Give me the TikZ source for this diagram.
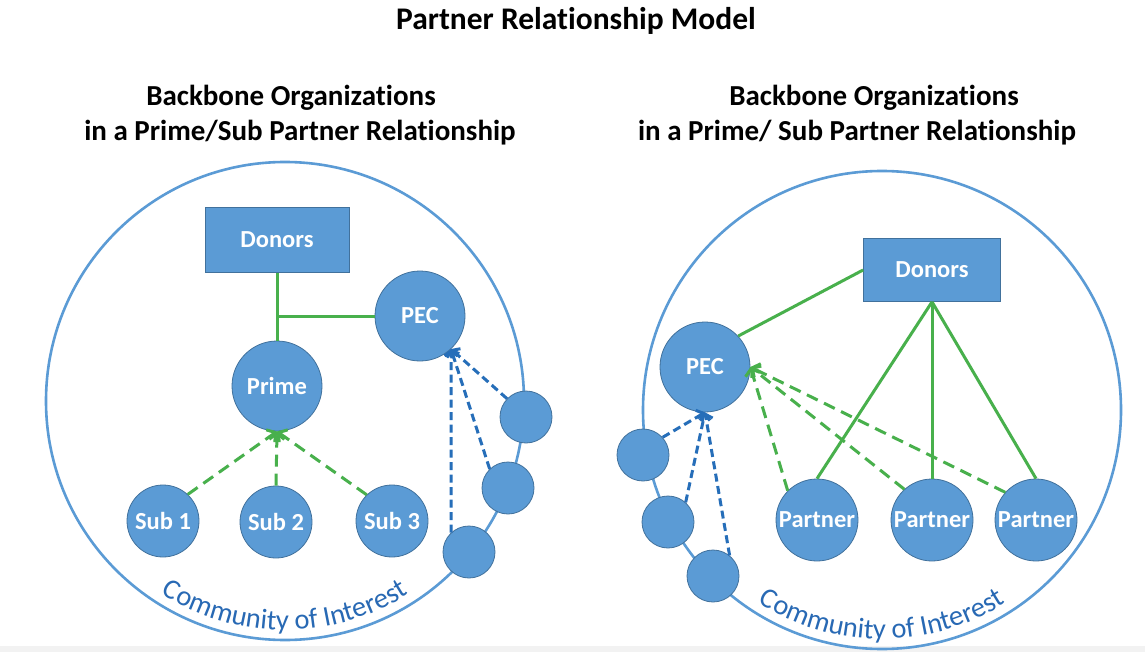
\documentclass[tikz,border=0pt]{standalone}
\usepackage{fontspec}
\setmainfont{Carlito}[Ligatures=NoCommon]
\usetikzlibrary{arrows.meta,decorations.text,calc}

\definecolor{nodeblue}{RGB}{91,155,213}
\definecolor{edgeblue}{RGB}{65,113,156}
\definecolor{linkgreen}{RGB}{72,176,76}
\definecolor{dashblue}{RGB}{38,110,185}
\definecolor{labelblue}{RGB}{40,105,180}
\newcommand{\ringlabelfont}{\fontsize{28.5}{30}\selectfont\color{labelblue}}

\begin{document}
\begin{tikzpicture}[x=1pt,y=-1pt,
  ring/.style={draw=nodeblue, line width=2.6pt},
  heading/.style={font=\bfseries\fontsize{29}{34}\selectfont, inner sep=0pt},
  orgbox/.style={rectangle, draw=edgeblue, line width=0.8pt, fill=nodeblue,
    text=white, font=\bfseries\fontsize{24.5}{27}\selectfont, inner sep=0pt},
  org/.style={circle, draw=edgeblue, line width=0.8pt, fill=nodeblue,
    text=white, font=\bfseries\fontsize{24.5}{27}\selectfont, inner sep=0pt,
    minimum size=#1},
  member/.style={circle, draw=edgeblue, line width=0.8pt, fill=nodeblue,
    inner sep=0pt, minimum size=52pt},
  tie/.style={draw=linkgreen, line width=3pt},
  greenflow/.style={draw=linkgreen, line width=3pt, dash pattern=on 12pt off 7pt,
    -{Straight Barb[length=6pt,width=15pt,line width=3pt]}},
  blueflow/.style={draw=dashblue, line width=3pt, dash pattern=on 8pt off 4.5pt,
    -{Straight Barb[length=5pt,width=13pt,line width=3pt]}},
]
\useasboundingbox (0,0) rectangle (1145,652);
\fill[white] (0,0) rectangle (1145,652);
\fill[black!5] (0,646) rectangle (1145,652);

% headings
\node[heading, font=\bfseries\fontsize{31.5}{36}\selectfont] (title) at (576,21) {Partner Relationship Model};
\node[heading] (headLa) at (291,98) {Backbone Organizations};
\node[heading] (headLb) at (300,133) {in a Prime/Sub Partner Relationship};
\node[heading] (headRa) at (874,98) {Backbone Organizations};
\node[heading] (headRb) at (857,133) {in a Prime/ Sub Partner Relationship};

% ---------- left model: prime / sub ----------
\coordinate (ringL) at (285,401);
\draw[ring] (ringL) circle[radius=239];
\path[decorate, decoration={text along path, text align=center,
    text={|\ringlabelfont|Community of Interest}}]
  (ringL) ++(158:229) arc[start angle=158, end angle=22, radius=229];

\node[orgbox, minimum width=144pt, minimum height=65pt] (donorsL) at (277,240) {Donors};
\node[org=90pt] (pecL) at (420,316) {PEC};
\node[org=90pt] (prime) at (277,386) {Prime};
\node[org=72pt] (sub1) at (163,521) {Sub 1};
\node[org=72pt] (sub2) at (276,522) {Sub 2};
\node[org=72pt] (sub3) at (392,521) {Sub 3};
\node[member] (mL1) at (526,417) {};
\node[member] (mL2) at (508,488) {};
\node[member] (mL3) at (469,552) {};

\draw[tie] (donorsL.south) -- (prime.north);
\coordinate (joinL) at (donorsL.south |- pecL.west);
\draw[tie] (joinL) -- (pecL.west);

\draw[greenflow] (sub1.47) -- (prime.south);
\draw[greenflow] (sub2.north) -- (prime.south);
\draw[greenflow] (sub3.134) -- (prime.south);

\coordinate (pecLin) at ($(pecL.center)+(31,33)$);
\draw[blueflow] (mL1.136) -- (pecLin);
\draw[blueflow] (mL2.134) -- (pecLin);
\draw[blueflow] (mL3.133) -- (pecLin);

% ---------- right model: partners ----------
\coordinate (ringR) at (882,410);
\draw[ring] (ringR) circle[radius=239];
\path[decorate, decoration={text along path, text align=center,
    text={|\ringlabelfont|Community of Interest}}]
  (ringR) ++(158:229) arc[start angle=158, end angle=22, radius=229];

\node[orgbox, minimum width=137pt, minimum height=63pt] (donorsR) at (932,270) {Donors};
\node[org=90pt] (pecR) at (705,367) {PEC};
\node[org=82pt] (part1) at (817,520) {Partner};
\node[org=82pt] (part2) at (932,520) {Partner};
\node[org=82pt] (part3) at (1036,520) {Partner};
\node[member] (mR1) at (643,455) {};
\node[member] (mR2) at (668,522) {};
\node[member] (mR3) at (713,576) {};

\draw[tie] (donorsR.west) -- (pecR.43);
\draw[tie] (donorsR.south) -- (part1.north);
\draw[tie] (donorsR.south) -- (part2.north);
\draw[tie] (donorsR.south) -- (part3.north);

\draw[greenflow] (part1.135) -- (pecR.east);
\draw[greenflow] (part2.132) -- (pecR.east);
\draw[greenflow] (part3.138) -- (pecR.east);

\draw[blueflow] (mR1.42) -- (pecR.south);
\draw[blueflow] (mR2.48) -- (pecR.south);
\draw[blueflow] (mR3.51) -- (pecR.south);
\end{tikzpicture}
\end{document}
